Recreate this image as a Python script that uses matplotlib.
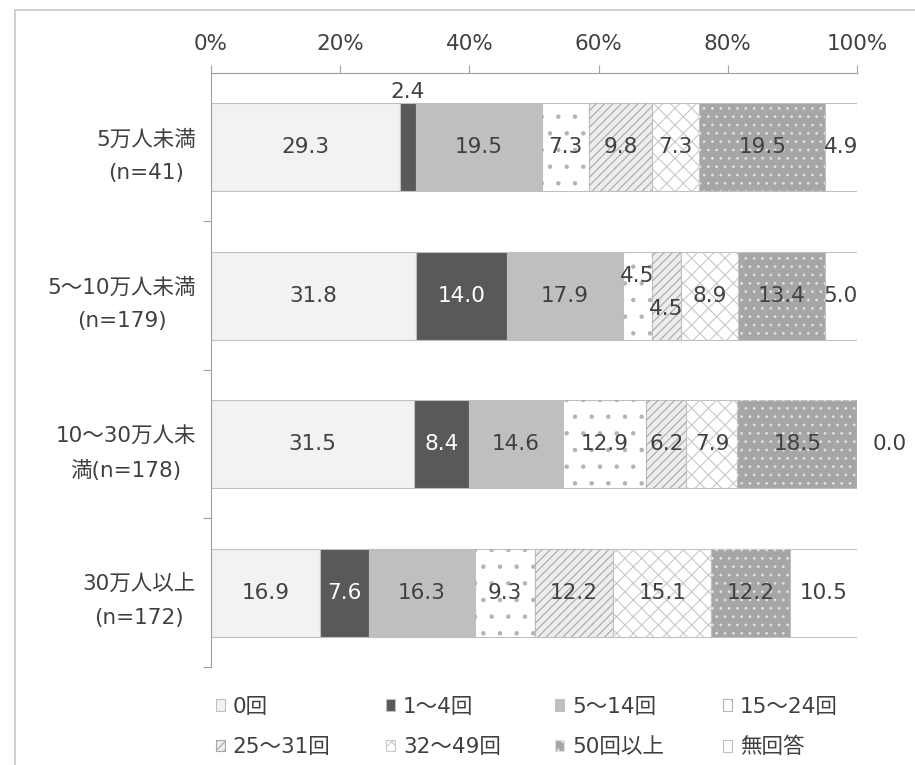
import numpy as np
import matplotlib
matplotlib.use("Agg")
import matplotlib.pyplot as plt
from matplotlib.patches import Patch, Rectangle

plt.rcParams['font.family'] = ['DejaVu Sans', 'Noto Sans CJK JP']
plt.rcParams['hatch.linewidth'] = 0.8

# 人口規模別の回数分布（%）
groups = ['5万人未満\n(n=41)', '5～10万人未満\n(n=179)',
          '10～30万人未\n満(n=178)', '30万人以上\n(n=172)']
series = ['0回', '1～4回', '5～14回', '15～24回',
          '25～31回', '32～49回', '50回以上', '無回答']
values = np.array([
    [29.3, 2.4, 19.5, 7.3, 9.8, 7.3, 19.5, 4.9],
    [31.8, 14.0, 17.9, 4.5, 4.5, 8.9, 13.4, 5.0],
    [31.5, 8.4, 14.6, 12.9, 6.2, 7.9, 18.5, 0.0],
    [16.9, 7.6, 16.3, 9.3, 12.2, 15.1, 12.2, 10.5],
])
xticks = [0, 20, 40, 60, 80, 100]
xticklabels = ['0%', '20%', '40%', '60%', '80%', '100%']

# 系列ごとの塗り: (面の色, ハッチ, ハッチの色)
styles = [
    ('#f2f2f2', None, None),
    ('#595959', None, None),
    ('#bfbfbf', None, None),
    ('#ffffff', '.', '#b4b4b4'),
    ('#ededed', '////', '#a8a8a8'),
    ('#ffffff', 'xx', '#c8c8c8'),
    ('#a6a6a6', '..', '#e0e0e0'),
    ('#ffffff', None, None),
]
text_color = '#404040'
edge_color = '#c0c0c0'
fs = 15.5

# ラベルをずらす区分 (行, 系列) -> (x方向, y方向) のずれ
label_shift = {(0, 1): (0, -0.37), (1, 3): (0, -0.13), (1, 4): (0, 0.09)}

fig = plt.figure(figsize=(9.15, 7.65), dpi=100)
ax = fig.add_axes([211 / 915, 1 - 667 / 765, 646 / 915, 594 / 765])

y = np.arange(len(groups))
height = 0.59
left = np.zeros(len(groups))
for j, name in enumerate(series):
    face, hatch, hcolor = styles[j]
    ax.barh(y, values[:, j], left=left, height=height, color=face,
            edgecolor=edge_color, linewidth=0.8, zorder=2)
    if hatch:
        ax.barh(y, values[:, j], left=left, height=height, color='none',
                edgecolor=hcolor, linewidth=0, hatch=hatch, zorder=3)
    for i in range(len(groups)):
        v = values[i, j]
        cx = left[i] + v / 2
        cy = y[i]
        dx, dy = label_shift.get((i, j), (0, 0))
        if v == 0:
            cx = 105
        color = 'white' if (j == 1 and v > 5) else text_color
        ax.text(cx + dx, cy + dy, f'{v:.1f}', ha='center', va='center',
                fontsize=fs, color=color, zorder=4)
    left += values[:, j]

ax.set_xlim(0, 100)
ax.set_ylim(len(groups) - 0.5, -0.5)

ax.xaxis.tick_top()
ax.set_xticks(xticks)
ax.set_xticklabels(xticklabels, fontsize=fs, color=text_color)
ax.tick_params(axis='x', direction='out', length=6, width=0.8,
               color='#a0a0a0', pad=8)

ax.set_yticks(y)
ax.set_yticklabels(groups, fontsize=fs, color=text_color,
                   ha='right', multialignment='center', linespacing=1.85)
ax.set_yticks(np.arange(len(groups)) + 0.5 - 1e-6, minor=True)
ax.tick_params(axis='y', which='major', length=0, pad=11)
ax.tick_params(axis='y', which='minor', direction='out', length=6,
               width=0.8, color='#a0a0a0')

for side in ['right', 'bottom']:
    ax.spines[side].set_visible(False)
for side in ['left', 'top']:
    ax.spines[side].set_color('#a0a0a0')
    ax.spines[side].set_linewidth(0.8)

handles = []
for j, name in enumerate(series):
    face, hatch, hcolor = styles[j]
    handles.append(Patch(facecolor=face, edgecolor=hcolor or edge_color,
                         hatch=hatch, linewidth=0.8, label=name))

# 凡例は4列・2行、列ごとに等間隔で並べる
col_x = [207, 377, 546, 714]
for c, x0 in enumerate(col_x):
    idx = [c, c + 4]
    fig.legend([handles[k] for k in idx], [series[k] for k in idx],
               loc='upper left', bbox_to_anchor=(x0 / 915, 1 - 688 / 765),
               frameon=False, fontsize=fs, handlelength=0.45,
               handleheight=0.45, handletextpad=0.35, labelspacing=0.95,
               borderaxespad=0, borderpad=0.4, labelcolor=text_color)

fig.patches.append(Rectangle((15 / 915, -0.1), 2, 1.1 - 10 / 765,
                             transform=fig.transFigure, fill=False,
                             edgecolor='#c8c8c8', linewidth=1.2))

fig.savefig('out.png', dpi=100)
